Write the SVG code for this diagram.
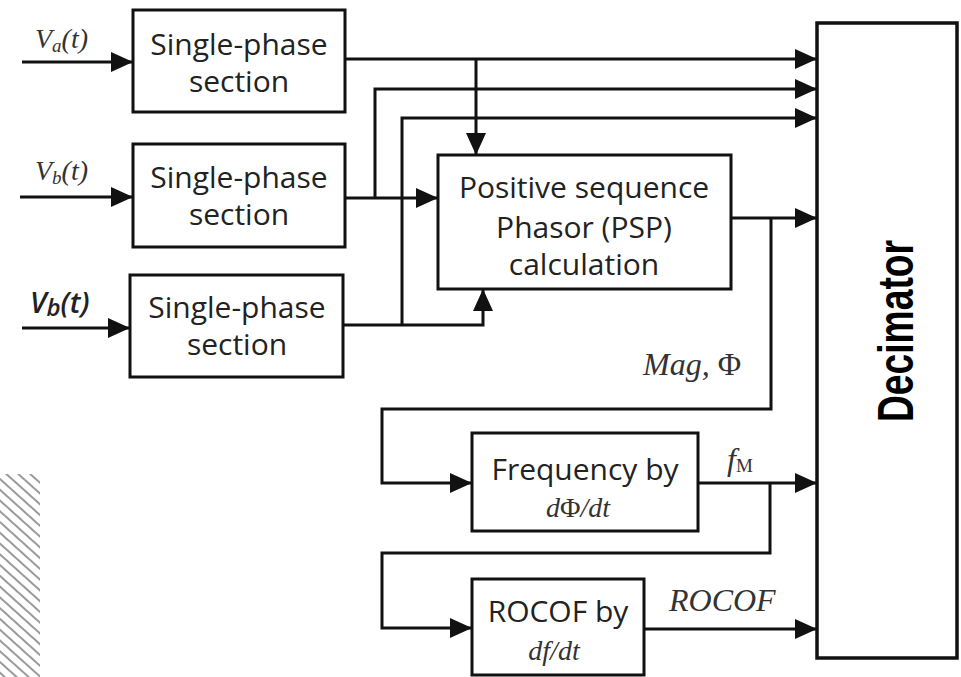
<svg xmlns="http://www.w3.org/2000/svg" width="961" height="677" viewBox="0 0 961 677">
<style>
.box{fill:#fff;stroke:#111;stroke-width:3}
.wire{fill:none;stroke:#111;stroke-width:3;stroke-linejoin:miter}
.arr{marker-end:url(#ah)}
.t{font-family:"Open Sans","DejaVu Sans",sans-serif;font-size:30px;fill:#222;text-anchor:middle}
.m{font-family:"Liberation Serif","Times New Roman",serif;font-style:italic;font-size:28px;fill:#333}
.big{font-size:32px}
.dec{font-family:"Liberation Sans",Arial,sans-serif;font-weight:bold;font-size:50px;fill:#000;text-anchor:middle}
</style>
<defs>
<marker id="ah" markerUnits="userSpaceOnUse" markerWidth="22" markerHeight="20" refX="22" refY="10" orient="auto" overflow="visible">
<path d="M0,0 L22,10 L0,20 Z" fill="#111"/>
</marker>
<pattern id="hatch" width="8" height="8" patternUnits="userSpaceOnUse" patternTransform="rotate(42)">
<line x1="0" y1="4" x2="8" y2="4" stroke="#9a9a9a" stroke-width="2"/>
</pattern>
</defs>
<rect width="961" height="677" fill="#fff"/>
<rect x="0" y="474" width="40" height="203" fill="url(#hatch)"/>
<g id="connectors">
<path class="wire arr" d="M22,62 H133"/>
<path class="wire arr" d="M20,197 H133"/>
<path class="wire arr" d="M22,328 H130"/>
<path class="wire arr" d="M345,59 H817"/>
<path class="wire arr" d="M476,59 V155"/>
<path class="wire arr" d="M345,198 H438"/>
<path class="wire arr" d="M375,198 V89 H817"/>
<path class="wire arr" d="M343,325 H483 V289"/>
<path class="wire arr" d="M402,325 V118 H817"/>
<path class="wire arr" d="M731,218 H817"/>
<path class="wire arr" d="M771,218 V409 H382 V483 H472"/>
<path class="wire arr" d="M698,483 H817"/>
<path class="wire arr" d="M770,483 V553 H382 V628 H472"/>
<path class="wire arr" d="M644,629 H817"/>
</g>
<g id="sp1">
<rect class="box" x="133" y="10" width="212" height="102"/>
<text class="t" x="239" y="55">Single-phase</text>
<text class="t" x="239" y="92">section</text>
</g>
<g id="sp2">
<rect class="box" x="133" y="144" width="212" height="103"/>
<text class="t" x="239" y="188">Single-phase</text>
<text class="t" x="239" y="225">section</text>
</g>
<g id="sp3">
<rect class="box" x="130" y="275" width="213" height="102"/>
<text class="t" x="237" y="318">Single-phase</text>
<text class="t" x="237" y="355">section</text>
</g>
<g id="psp">
<rect class="box" x="438" y="155" width="293" height="134"/>
<text class="t" x="584" y="198">Positive sequence</text>
<text class="t" x="584" y="238">Phasor (PSP)</text>
<text class="t" x="584" y="275">calculation</text>
</g>
<g id="freq">
<rect class="box" x="472" y="433" width="226" height="98"/>
<text class="t" x="585" y="480">Frequency by</text>
<text class="m" x="578" y="517" text-anchor="middle" font-size="30">d<tspan font-style="normal">Φ</tspan>/dt</text>
</g>
<g id="rocof">
<rect class="box" x="472" y="579" width="172" height="96"/>
<text class="t" x="558" y="622">ROCOF by</text>
<text class="m" x="554" y="660" text-anchor="middle" font-size="30">df/dt</text>
</g>
<g id="decimator">
<rect class="box" x="817" y="23" width="140" height="635" style="stroke-width:3.5"/>
<text class="dec" transform="translate(913,331) rotate(-90)" x="0" y="0" textLength="182" lengthAdjust="spacingAndGlyphs">Decimator</text>
</g>
<g id="labels">
<text class="m" x="35" y="48">V<tspan font-size="19" dy="4">a</tspan><tspan dy="-4">(t)</tspan></text>
<text class="m" x="35" y="180">V<tspan font-size="19" dy="4">b</tspan><tspan dy="-4">(t)</tspan></text>
<text x="30" y="313" style="font-family:'Open Sans','DejaVu Sans',sans-serif;font-style:italic;font-weight:600;font-size:29px;fill:#222">V<tspan font-size="24" dy="3">b</tspan><tspan dy="-3">(t)</tspan></text>
<text class="m big" x="643" y="375">Mag, <tspan font-style="normal">Φ</tspan></text>
<text class="m big" x="727" y="470">f<tspan font-size="19" dy="2" font-style="normal">M</tspan></text>
<text class="m big" x="669" y="611">ROCOF</text>
</g>
</svg>
